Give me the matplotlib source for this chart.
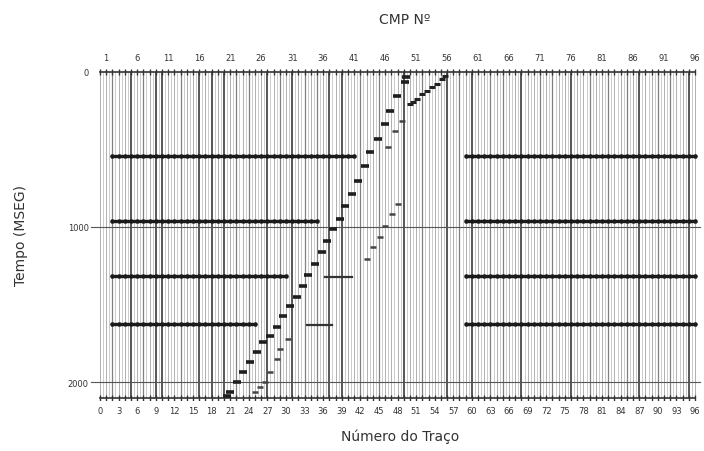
import matplotlib.pyplot as plt
import numpy as np

# traces / labels
traces = np.arange(0, 97)
dark_traces = [5, 9, 10, 16, 18, 20, 27, 31, 37, 39, 49, 56, 60, 68, 76, 87, 95]
mid_traces = [2, 7, 13, 22, 24, 29, 33, 35, 42, 45, 52, 58, 63, 65, 71, 73, 79, 82, 85, 90, 92]
cmp_labels = np.arange(1, 97, 5)
trace_labels = np.arange(0, 97, 3)
time_labels = [0, 1000, 2000]
t_max = 2100

# horizontal reflectors (time, left part start/end, right part start/end)
refl_times = [542, 961, 1316, 1626]
refl_left_start = [2, 2, 2, 2]
refl_left_end = [41.6, 35.8, 30.6, 25.8]
refl_right_start = [59, 59, 59, 59]
refl_right_end = [96, 96, 96, 96]

# short reflector pieces right of the fault
bit_start = [36.3, 33.4]
bit_end = [40.6, 37.4]
bit_time = [1323, 1632]

# main diagonal event
main_tr = [49.4, 49.2, 47.9, 46.8, 46.0, 44.8, 43.5, 42.7, 41.6, 40.6, 39.5, 38.7, 37.6, 36.6,
           35.8, 34.7, 33.6, 32.7, 31.8, 30.6, 29.5, 28.5, 27.4, 26.3, 25.3, 24.2, 23.1, 22.1,
           21.0, 20.5]
main_t = [32, 65, 155, 252, 335, 432, 516, 606, 703, 787, 865, 948, 1013, 1090,
          1161, 1239, 1310, 1381, 1452, 1510, 1574, 1645, 1703, 1742, 1806, 1871, 1935, 2000,
          2065, 2090]

# shallow event at top right
top_tr = [55.6, 55.2, 54.4, 53.5, 52.7, 51.9, 51.1, 50.5, 50.0]
top_t = [25, 45, 77, 97, 123, 142, 174, 194, 206]

# fainter events
ev2_tr = [48.7, 47.6, 46.5]
ev2_t = [316, 381, 484]
ev3_tr = [48.1, 47.1, 46.0, 45.2, 44.0, 43.1]
ev3_t = [852, 916, 994, 1065, 1129, 1206]
ev4_tr = [30.3, 29.0, 28.5, 27.4, 26.6, 25.8, 25.0]
ev4_t = [1723, 1787, 1852, 1935, 2000, 2032, 2065]

fig = plt.figure(figsize=(7.04, 4.52), dpi=100)
ax = fig.add_axes([97 / 704, 1 - 401 / 452, 603 / 704, 331 / 452])
ax.set_xlim(-0.48, 96.8)
ax.set_ylim(2116, -19)

# trace lines (each trace drawn as a narrow double line)
cols = []
lws = []
for tr in traces:
    if tr in dark_traces:
        cols.append('#3a3a3a'); lws.append(1.2)
    elif tr in mid_traces:
        cols.append('#808080'); lws.append(0.9)
    else:
        cols.append('#b0b0b0'); lws.append(0.7)
ax.vlines(traces, 0, t_max, colors=cols, linewidths=lws, zorder=1)
ax.vlines(traces[:-1] + 0.5, 0, t_max, colors='#c4c4c4', linewidths=0.6, zorder=1)

# border / timing lines
for t in [0, t_max]:
    ax.plot(traces, [t] * len(traces), color='#333333', lw=1.2, marker='|',
            markersize=5, mew=1.0, zorder=3)
for t in [1000, 2000]:
    ax.plot([-1.4, 96.8], [t, t], color='#555555', lw=0.8, clip_on=False, zorder=2)

# reflectors
for i, t in enumerate(refl_times):
    for a, b in [(refl_left_start[i], refl_left_end[i]), (refl_right_start[i], refl_right_end[i])]:
        xs = np.arange(a, b + 0.01, 1.0)
        ax.plot(xs, [t] * len(xs), color='#1a1a1a', lw=2.4, zorder=4)
        ax.plot(xs, [t] * len(xs), ls='none', marker='o', markersize=2.2,
                color='#1a1a1a', zorder=4)
for a, b, t in zip(bit_start, bit_end, bit_time):
    ax.plot([a, b], [t, t], color='#333333', lw=1.6, zorder=4)

# diagonal events
ax.plot(main_tr, main_t, ls='none', marker='_', markersize=5.5, mew=2.6, color='#1e1e1e', zorder=5)
ax.plot(top_tr, top_t, ls='none', marker='_', markersize=4.5, mew=2.2, color='#222222', zorder=5)
for xs, ys in [(ev2_tr, ev2_t), (ev3_tr, ev3_t), (ev4_tr, ev4_t)]:
    ax.plot(xs, ys, ls='none', marker='_', markersize=4.5, mew=1.8, color='#444444', zorder=5)

for s in ax.spines.values():
    s.set_visible(False)

ax.set_xticks(trace_labels)
ax.set_xticklabels([str(v) for v in trace_labels])
ax.set_yticks(time_labels)
ax.set_yticklabels([str(v) for v in time_labels])
ax.tick_params(axis='x', length=0, pad=4, labelsize=6, labelcolor='#333333')
ax.tick_params(axis='y', length=0, pad=6, labelsize=6, labelcolor='#333333')

top = ax.secondary_xaxis('top')
top.set_xticks(cmp_labels)
top.set_xticklabels([str(v) for v in cmp_labels])
top.tick_params(length=0, pad=5, labelsize=6, labelcolor='#333333')
for s in top.spines.values():
    s.set_visible(False)

fig.text(0.575, 0.955, 'CMP Nº', ha='center', va='center', fontsize=10, color='#333333')
fig.text(0.568, 0.033, 'Número do Traço', ha='center', va='center', fontsize=10, color='#333333')
fig.text(0.03, 0.48, 'Tempo (MSEG)', ha='center', va='center', rotation=90, fontsize=10, color='#333333')

fig.savefig('out.png', dpi=100)
